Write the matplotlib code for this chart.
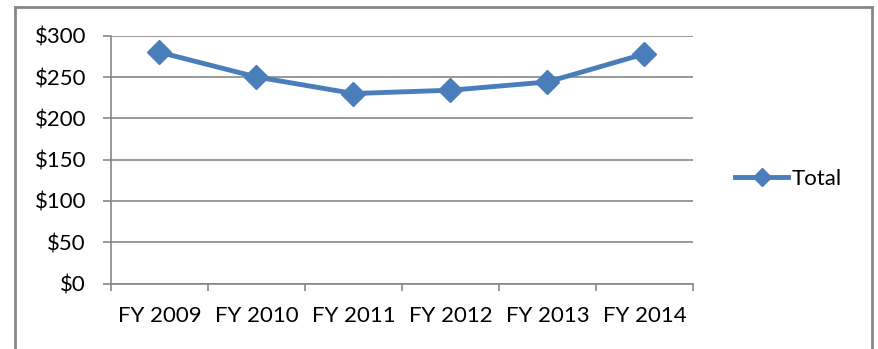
import matplotlib
matplotlib.use("Agg")
import matplotlib.pyplot as plt
from matplotlib.lines import Line2D

years = ["FY 2009", "FY 2010", "FY 2011", "FY 2012", "FY 2013", "FY 2014"]
totals = [280, 250, 230, 234, 244, 278]
y_ticks = [0, 50, 100, 150, 200, 250, 300]
y_labels = ["$0", "$50", "$100", "$150", "$200", "$250", "$300"]

LINE_COLOR = "#4A7EBB"
GRID_COLOR = "#878787"
FONT_SIZE = 16

plt.rcParams["font.family"] = ["Lato", "DejaVu Sans"]

fig = plt.figure(figsize=(8.79, 3.49), dpi=100)
ax = fig.add_axes([111 / 879, 65.5 / 349, 582 / 879, 247.8 / 349])

xs = range(len(years))
ax.plot(xs, totals, color=LINE_COLOR, linewidth=3.5, marker="D",
        markersize=12, label="Total", zorder=3)

ax.set_xlim(-0.5, len(years) - 0.5)
ax.set_ylim(0, 300)
ax.set_yticks(y_ticks)
ax.set_yticklabels(y_labels, fontsize=FONT_SIZE)
ax.yaxis.grid(True, color=GRID_COLOR, linewidth=1.2)
ax.set_axisbelow(True)

# category boundaries carry the ticks, labels sit in between
ax.set_xticks([i - 0.5 for i in range(len(years) + 1)])
ax.set_xticklabels([])
ax.set_xticks(list(xs), minor=True)
ax.set_xticklabels(years, minor=True, fontsize=FONT_SIZE)
ax.tick_params(axis="x", which="major", direction="out", length=5,
               color=GRID_COLOR, width=1.2)
ax.tick_params(axis="x", which="minor", length=0, pad=16)
ax.tick_params(axis="y", direction="out", length=6, color=GRID_COLOR,
               width=1.2, pad=12)

for side in ["top", "right"]:
    ax.spines[side].set_visible(False)
for side in ["left", "bottom"]:
    ax.spines[side].set_color(GRID_COLOR)
    ax.spines[side].set_linewidth(1.2)

fig.legend(loc="center left", bbox_to_anchor=(715 / 879, 1 - 179 / 349),
           frameon=False, fontsize=FONT_SIZE, handlelength=2.4,
           handletextpad=0.15, markerscale=0.8)

# outer chart border (bottom is cut off in the original)
bx0, bx1, by1 = 15 / 879, 872 / 879, 1 - 7 / 349
for xd, yd in [([bx0, bx0], [0, by1]), ([bx0, bx1], [by1, by1]),
               ([bx1, bx1], [by1, 0])]:
    fig.add_artist(Line2D(xd, yd, transform=fig.transFigure,
                          color=GRID_COLOR, linewidth=2))

fig.savefig("out.png", dpi=100)
